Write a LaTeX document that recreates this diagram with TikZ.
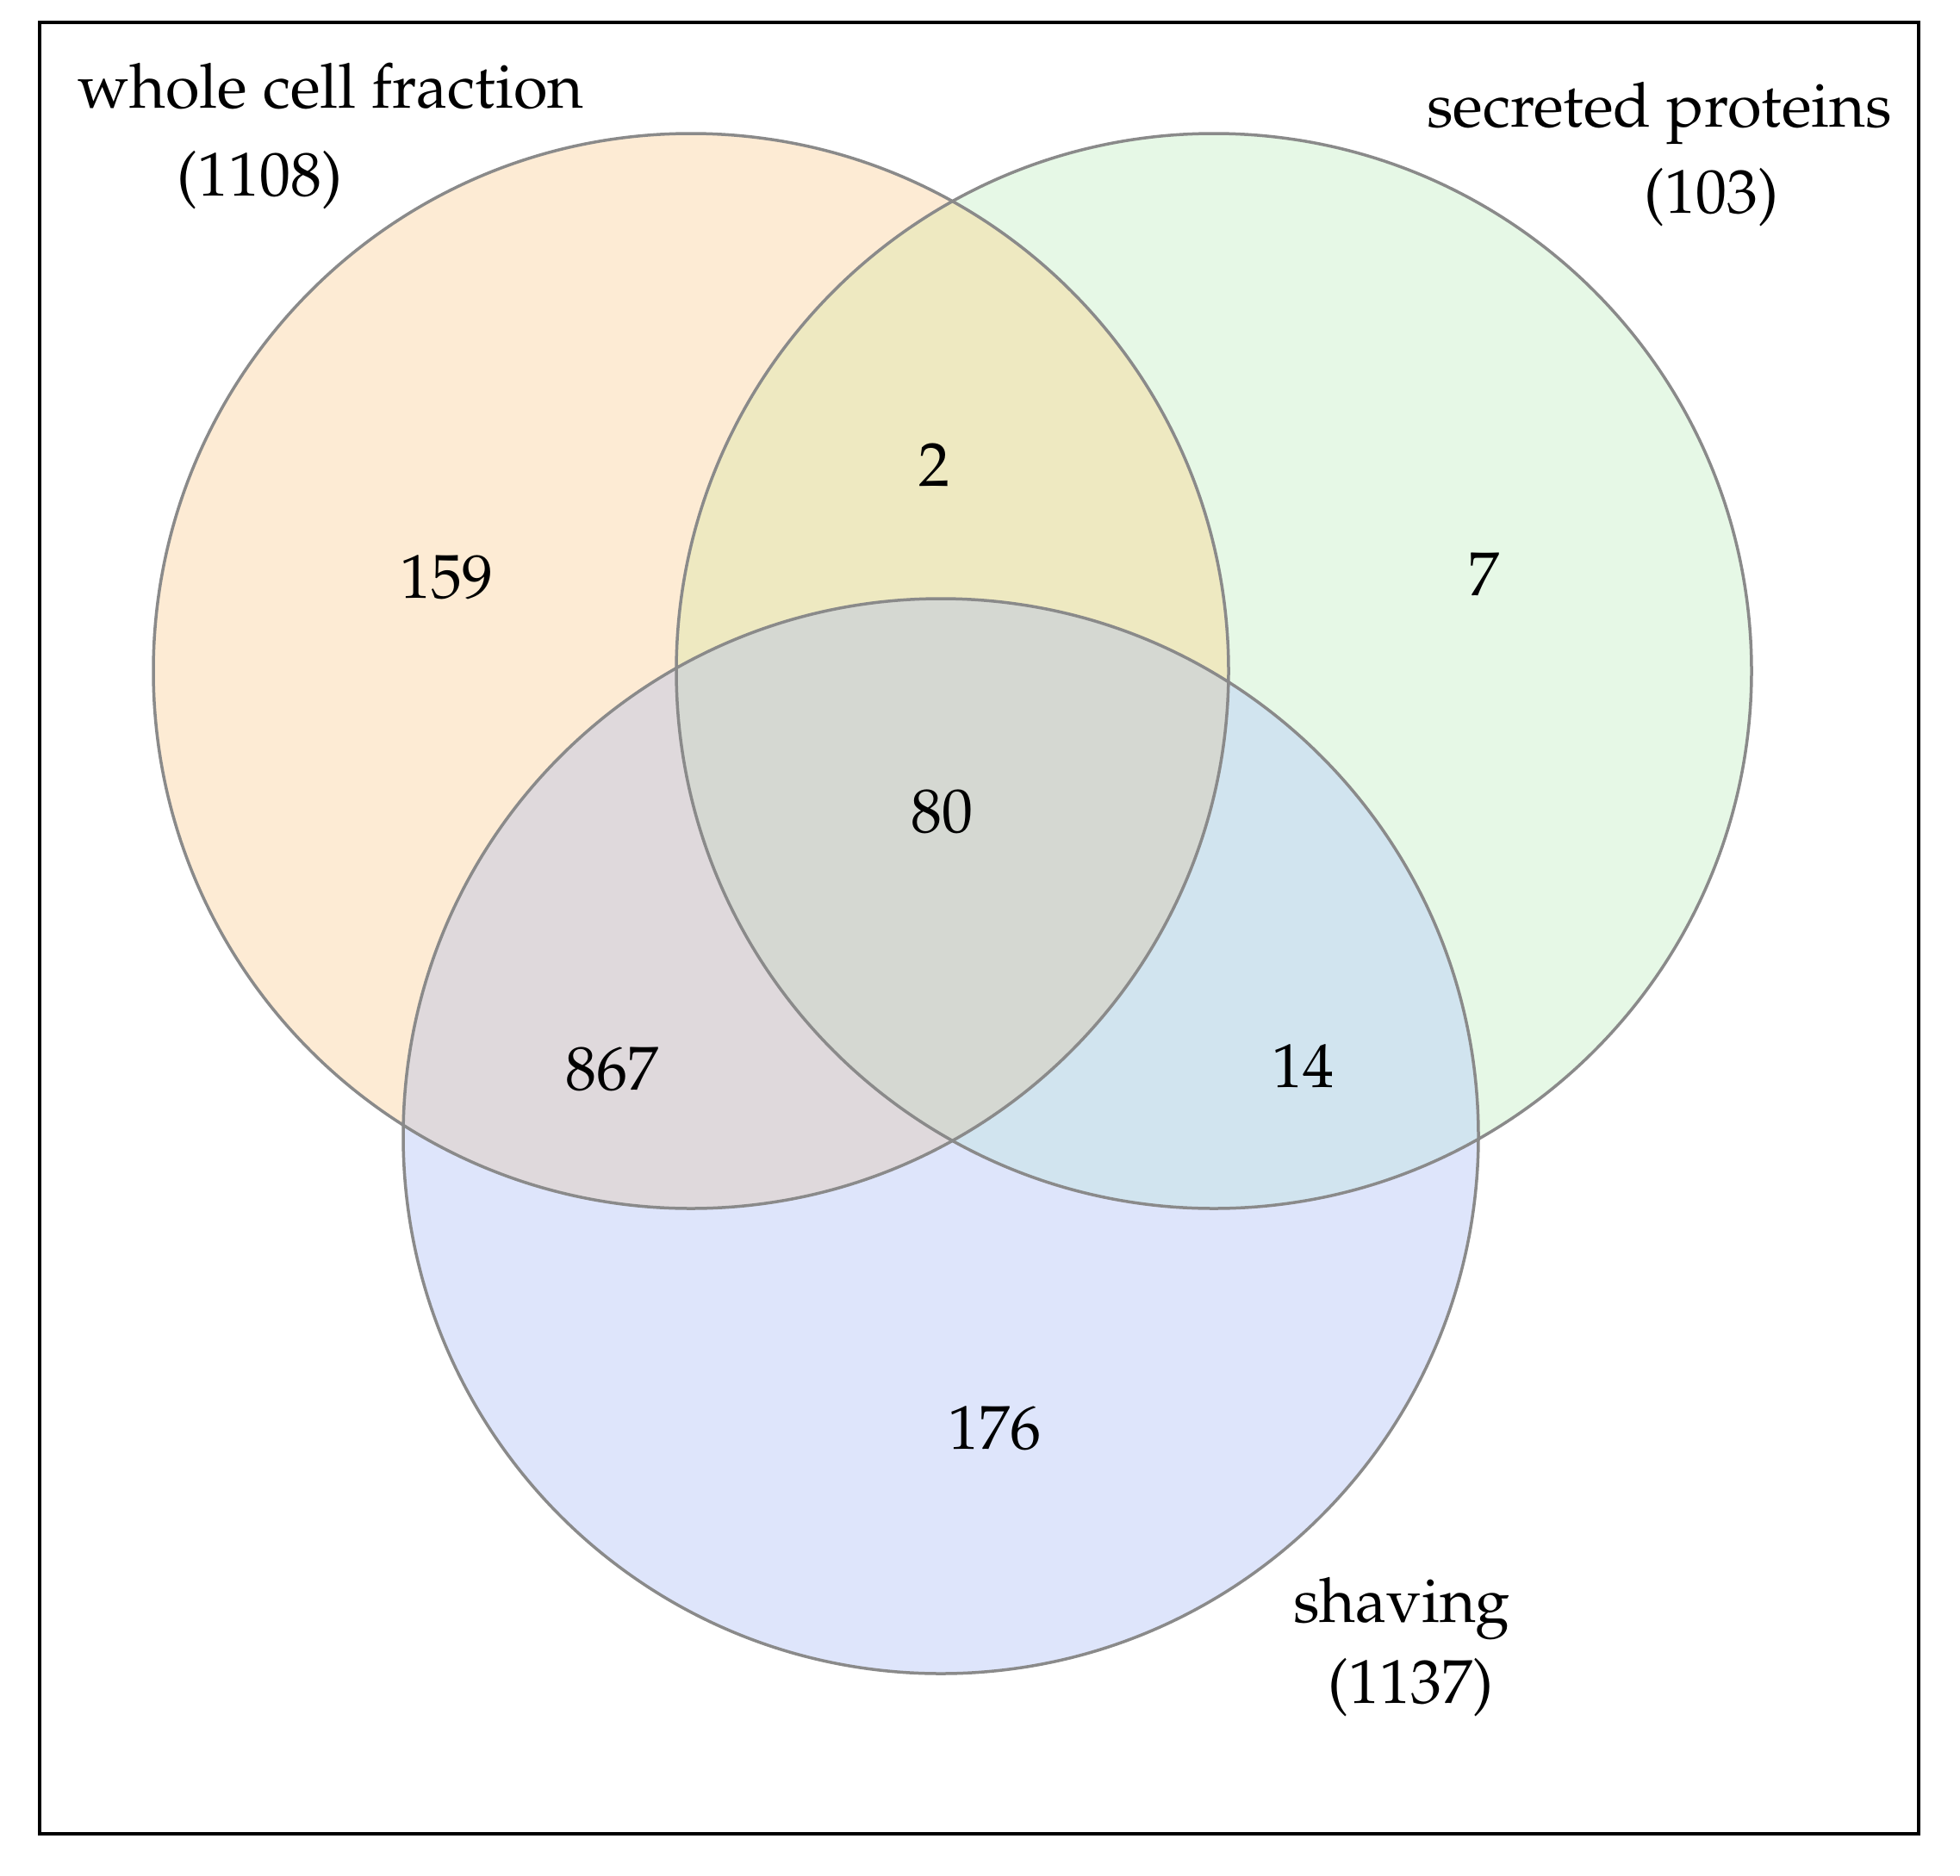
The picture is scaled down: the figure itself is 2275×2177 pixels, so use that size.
\documentclass[tikz,border=0pt]{standalone}
\usepackage[T1]{fontenc}
\usepackage{mathpazo}
\definecolor{cA}{HTML}{FDEBD4}
\definecolor{cB}{HTML}{E6F8E6}
\definecolor{cC}{HTML}{DEE5FB}
\definecolor{cAB}{HTML}{EEE9C1}
\definecolor{cAC}{HTML}{DFD9DC}
\definecolor{cBC}{HTML}{D1E4EF}
\definecolor{cABC}{HTML}{D5D8D2}
\definecolor{ring}{HTML}{8A8A8A}
\begin{document}
\begin{tikzpicture}[x=1pt,y=-1pt,
  lbl/.style={inner sep=0pt,font=\fontsize{72}{86}\selectfont},
  num/.style={inner sep=0pt,font=\fontsize{72}{86}\selectfont}]
\useasboundingbox (0,0) rectangle (2275,2177);
\fill[white] (0,0) rectangle (2275,2177);
\def\pA{(802,779) circle (624pt)}
\def\pB{(1409,779) circle (624pt)}
\def\pC{(1092,1319) circle (624pt)}
% single sets
\fill[cA] \pA;
\fill[cB] \pB;
\fill[cC] \pC;
% pairwise
\begin{scope}\clip \pA; \fill[cAB] \pB; \end{scope}
\begin{scope}\clip \pA; \fill[cAC] \pC; \end{scope}
\begin{scope}\clip \pB; \fill[cBC] \pC; \end{scope}
\begin{scope}\clip \pA; \clip \pB; \fill[cABC] \pC; \end{scope}
% outlines
\draw[ring,line width=3.5pt] \pA;
\draw[ring,line width=3.5pt] \pB;
\draw[ring,line width=3.5pt] \pC;
% frame
\draw[black,line width=3.5pt] (46,26) rectangle (2227,2129);
% labels
\node[lbl,anchor=base] (la) at (384,125) {whole cell fraction};
\node[lbl,anchor=base] (lan) at (301,227) {(1108)};
\node[lbl,anchor=base] (lb) at (1926,147) {secreted proteins};
\node[lbl,anchor=base] (lbn) at (1986,247) {(103)};
\node[lbl,anchor=base] (lc) at (1627,1883) {shaving};
\node[lbl,anchor=base] (lcn) at (1637,1977) {(1137)};
% counts
\node[num] (n159) at (518,670) {159};
\node[num] (n2) at (1084,540) {2};
\node[num] (n7) at (1722,667) {7};
\node[num] (n80) at (1093,942) {80};
\node[num] (n867) at (710,1241) {867};
\node[num] (n14) at (1512,1238) {14};
\node[num] (n176) at (1154,1658) {176};
\end{tikzpicture}
\end{document}
